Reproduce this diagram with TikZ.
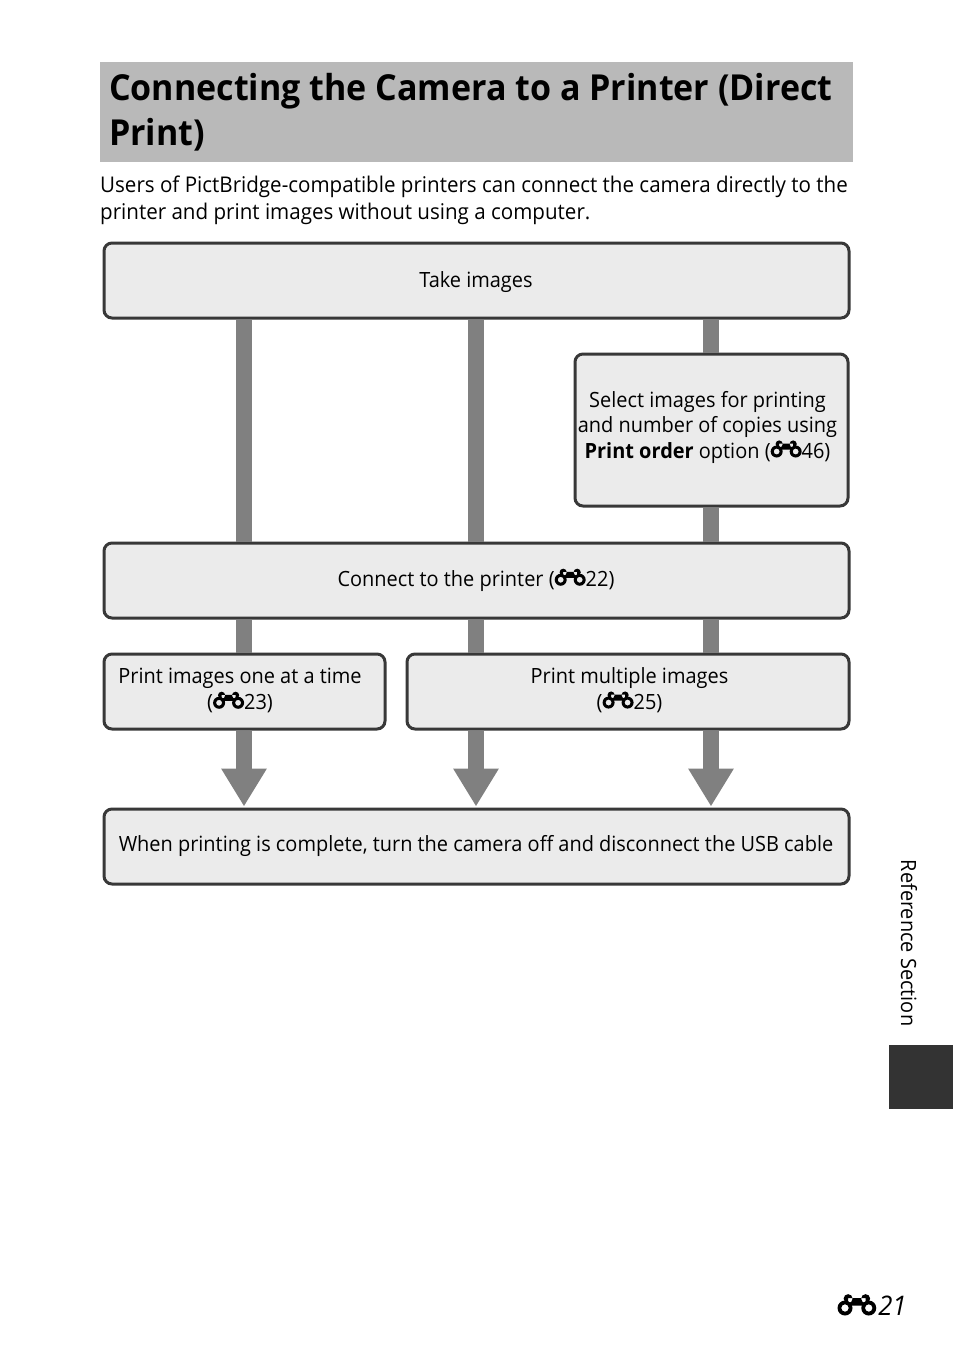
\documentclass[tikz,border=0pt]{standalone}
\usepackage{fontspec}
\setmainfont[FakeStretch=0.95]{Open Sans}
\usetikzlibrary{arrows.meta}
\tikzset{stepbox/.style={draw=black!78,line width=3pt,fill=black!8,rounded corners=8pt,inner sep=0pt},
	 steptext/.style={inner sep=0pt,align=center,font=\fontsize{21}{25.5}\selectfont},
	 flow/.style={draw=black!50,line width=16pt},
	 flowend/.style={flow,-{Triangle[width=43pt,length=38pt]},shorten >=1pt},
	 plain/.style={inner sep=0pt,anchor=west,align=left}
	 }
\newcommand{\binoc}[1][1]{\tikz[x=1pt,y=1pt,scale=#1,baseline=-1pt]{\fill (8,13) circle (3.6) (22,13) circle (3.6) (8,7.5) rectangle (22,13.5); \fill[even odd rule] (5.5,5.5) circle (6) circle (3) (24.5,5.5) circle (6) circle (3);}}

\begin{document}
\begin{tikzpicture}[x=1pt,y=-1pt] % one unit is one pixel of the page
	\useasboundingbox (0,0) rectangle (954,1345);
	\fill[white] (0,0) rectangle (954,1345);

	\node[fill=black!27.5,minimum width=753pt,minimum height=100pt,inner sep=0pt] (band) at (476.5,112) {};
	\node[plain,font=\fontsize{35.8}{45}\selectfont\bfseries] (title) at (109,112) {Connecting the Camera to a Printer (Direct\\Print)};
	\node[plain,font=\fontsize{21.65}{27}\selectfont] (intro) at (100,200) {Users of PictBridge-compatible printers can connect the camera directly to the\\printer and print images without using a computer.};

	\node[stepbox,minimum width=745pt,minimum height=75pt] (take) at (476.5,280.5) {};
	\node[stepbox,minimum width=273pt,minimum height=152pt] (select) at (711.5,430) {};
	\node[stepbox,minimum width=745pt,minimum height=75pt] (connect) at (476.5,580.5) {};
	\node[stepbox,minimum width=281pt,minimum height=75pt] (single) at (244.5,691.5) {};
	\node[stepbox,minimum width=442pt,minimum height=75pt] (multi) at (628,691.5) {};
	\node[stepbox,minimum width=745pt,minimum height=75pt] (done) at (476.5,846.5) {};

	\node[steptext] (ttake) at (476,282) {Take images};
	\node[steptext] (tselect) at (707.5,427) {Select images for printing\\and number of copies using\\\textbf{Print order} option (\binoc46)};
	\node[steptext] (tconnect) at (476,580) {Connect to the printer (\binoc22)};
	\node[steptext] (tsingle) at (240,690.5) {Print images one at a time\\(\binoc23)};
	\node[steptext] (tmulti) at (629.5,690) {Print multiple images\\(\binoc25)};
	\node[steptext] (tdone) at (476,846) {When printing is complete, turn the camera off and disconnect the USB cable};

	\coordinate (c1) at (244,0); \coordinate (c2) at (476,0); \coordinate (c3) at (711,0);
	\draw [flow] (take.south -| c1) to (connect.north -| c1);
	\draw [flow] (take.south -| c2) to (connect.north -| c2);
	\draw [flow] (take.south -| c3) to (select.north -| c3);
	\draw [flow] (select.south -| c3) to (connect.north -| c3);
	\draw [flow] (connect.south -| c1) to (single.north -| c1);
	\draw [flow] (connect.south -| c2) to (multi.north -| c2);
	\draw [flow] (connect.south -| c3) to (multi.north -| c3);
	\draw [flowend] (single.south -| c1) to (done.north -| c1);
	\draw [flowend] (multi.south -| c2) to (done.north -| c2);
	\draw [flowend] (multi.south -| c3) to (done.north -| c3);

	\node[font=\fontsize{21}{23}\selectfont,rotate=-90,inner sep=0pt] (side) at (909,943) {Reference Section};
	\node[fill=black!80,minimum width=64pt,minimum height=64pt,inner sep=0pt] (tab) at (921,1077) {};
	\node[font=\fontsize{27}{30}\selectfont\itshape,inner sep=0pt] (page) at (872,1305) {\binoc[1.25]\hspace{2pt}21};
\end{tikzpicture}
\end{document}
